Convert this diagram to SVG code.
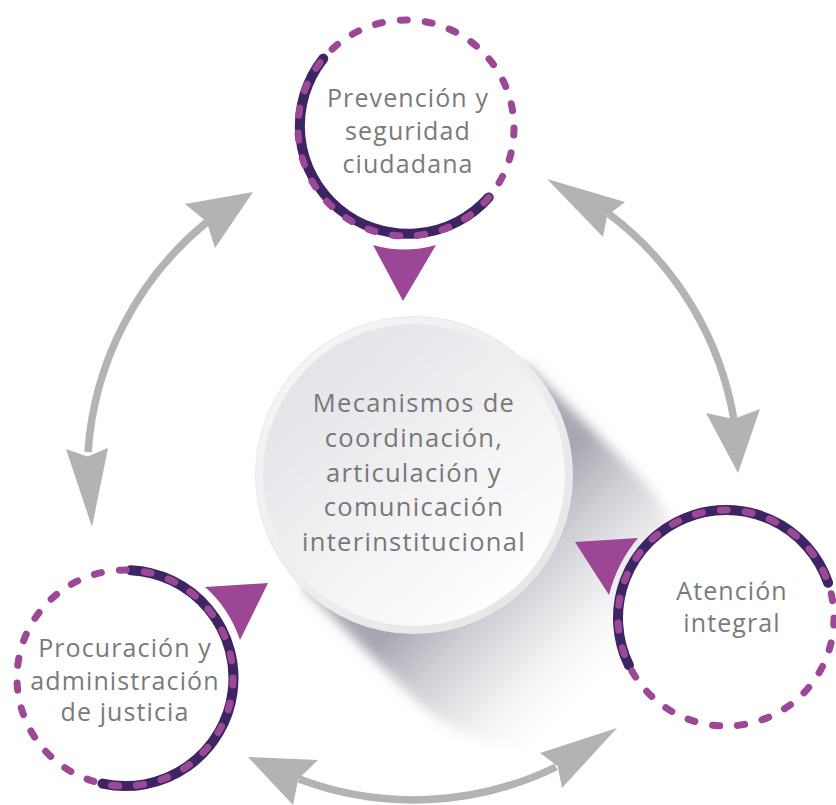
<svg xmlns="http://www.w3.org/2000/svg" width="836" height="805" viewBox="0 0 836 805">
<style>
.lbl{font-family:"Open Sans","Liberation Sans",sans-serif;fill:#7a7a7a;text-anchor:middle;font-size:25px;letter-spacing:1.1px}
.clbl{font-family:"Open Sans","Liberation Sans",sans-serif;fill:#787878;text-anchor:middle;font-size:25.5px;letter-spacing:1.3px}
.dark{fill:none;stroke:#3d2463;stroke-width:10;stroke-linecap:round}
.dash{fill:none;stroke:#9b4896;stroke-width:7;stroke-linecap:round;stroke-dasharray:7.13 18}
.tri{fill:#9b4795}
.garc{fill:none;stroke:#b3b3b3;stroke-width:7.5}
.ghead{fill:#b3b3b3}
</style>
<defs>
<linearGradient id="shadowGrad" gradientUnits="userSpaceOnUse" x1="480" y1="541" x2="605" y2="666">
<stop offset="0" stop-color="#8a8a98" stop-opacity="0.75"/>
<stop offset="1" stop-color="#c8c8d0" stop-opacity="0"/>
</linearGradient>
<linearGradient id="rimGrad" x1="0" y1="0" x2="1" y2="1">
<stop offset="0" stop-color="#f7f7f8"/>
<stop offset="1" stop-color="#e4e4e8"/>
</linearGradient>
<linearGradient id="faceGrad" x1="0.15" y1="0.1" x2="0.85" y2="0.9">
<stop offset="0" stop-color="#e3e3e8"/>
<stop offset="1" stop-color="#ffffff"/>
</linearGradient>
<filter id="blur" x="-20%" y="-20%" width="140%" height="140%">
<feGaussianBlur stdDeviation="6"/>
</filter>
</defs>
<rect width="836" height="805" fill="#ffffff"/>

<g id="connectors">
<path class="garc" d="M 88 452 A 325 325 0 0 1 207 222"/>
<polygon class="ghead" points="253,192 185,204 206.7,221.7 215,248"/>
<polygon class="ghead" points="92,527 66,449 87.5,456.5 108,448"/>
<path class="garc" d="M 609 214 A 325 325 0 0 1 734 420"/>
<polygon class="ghead" points="547,179 625,202 607.2,215.4 603,237"/>
<polygon class="ghead" points="738,473 706,413 733.6,419 760,409"/>
<path class="garc" d="M 556 767 A 325 325 0 0 1 299 779"/>
<polygon class="ghead" points="617,728 540,753 557.7,766.2 562,788"/>
<polygon class="ghead" points="248,757 318,760 298.2,779.3 293,805"/>
</g>

<g id="center">
<path d="M 525.7 363.3 L 640.7 478.3 A 158 158 0 0 1 417.3 701.7 L 302.3 586.7 Z" fill="url(#shadowGrad)" filter="url(#blur)"/>
<circle cx="414" cy="475" r="159" fill="#e9e9ec"/>
<circle cx="414" cy="475" r="158" fill="url(#rimGrad)"/>
<circle cx="414" cy="475" r="151" fill="url(#faceGrad)"/>
<text class="clbl" x="414" y="412">Mecanismos de</text>
<text class="clbl" x="414" y="447">coordinación,</text>
<text class="clbl" x="414" y="482">articulación y</text>
<text class="clbl" x="414" y="516">comunicación</text>
<text class="clbl" x="414" y="551">interinstitucional</text>
</g>

<g id="prevencion">
<circle cx="406" cy="128" r="108" fill="#ffffff"/>
<path class="dark" d="M 488.7 197.4 A 108 108 0 0 1 323.3 58.6"/>
<circle class="dash" cx="406" cy="128" r="108"/>
<text class="lbl" x="408" y="107">Prevención y</text>
<text class="lbl" x="408" y="140">seguridad</text>
<text class="lbl" x="408" y="173">ciudadana</text>
<path class="tri" d="M 373 245 Q 404 254 436 245 L 403 301 Z"/>
</g>

<g id="atencion">
<circle cx="726" cy="618" r="108" fill="#ffffff"/>
<path class="dark" d="M 628.9 665.3 A 108 108 0 1 1 828.1 582.8"/>
<circle class="dash" cx="726" cy="618" r="108"/>
<text class="lbl" x="732" y="600">Atención</text>
<text class="lbl" x="732" y="632">integral</text>
<path class="tri" d="M 575 542 L 638 538 Q 617 563 609 595 Z"/>
</g>

<g id="procuracion">
<circle cx="125" cy="678" r="108" fill="#ffffff"/>
<path class="dark" d="M 130.7 570.2 A 108 108 0 1 1 102.5 783.6"/>
<circle class="dash" cx="125" cy="678" r="108"/>
<text class="lbl" x="125" y="657">Procuración y</text>
<text class="lbl" x="125" y="690">administración</text>
<text class="lbl" x="125" y="721">de justicia</text>
<path class="tri" d="M 205 587 L 268 583 L 240 640 Q 229 608 205 587 Z"/>
</g>
</svg>
